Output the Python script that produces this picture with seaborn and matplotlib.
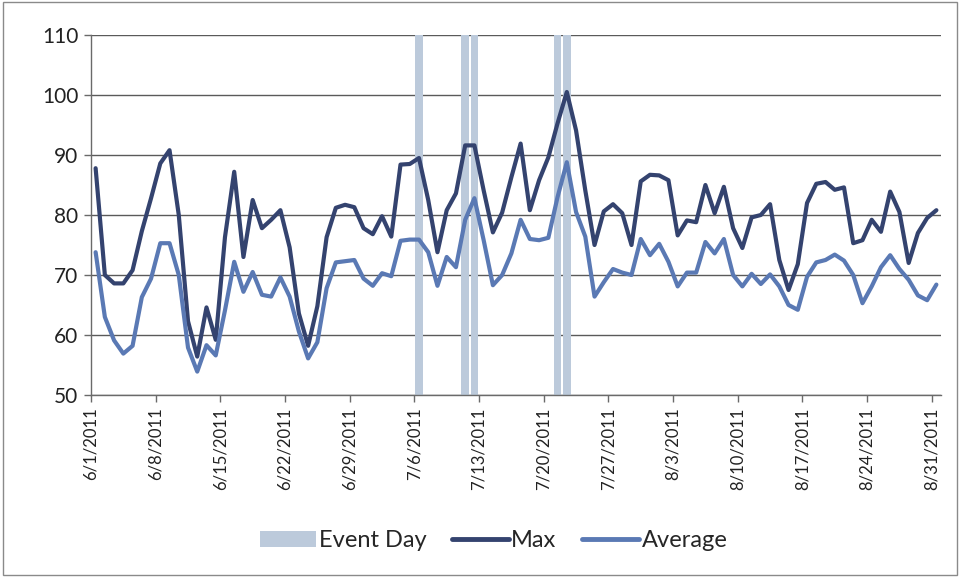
import numpy as np
import pandas as pd
import matplotlib
matplotlib.use("Agg")
import matplotlib.pyplot as plt
from matplotlib.patches import Patch, Rectangle
from matplotlib.lines import Line2D
import seaborn as sns

# Daily temperatures, June 1 - August 31, 2011
dates = pd.date_range("2011-06-01", "2011-08-31", freq="D")

max_temp = [
    87.8, 70.0, 68.6, 68.6, 70.8, 77.3, 82.8, 88.6, 90.8, 80.0,
    62.3, 56.4, 64.6, 59.2, 76.3, 87.2, 73.0, 82.5, 77.8, 79.2,
    80.8, 74.6, 63.6, 58.2, 64.8, 76.3, 81.2, 81.7, 81.3, 77.8,
    76.8, 79.8, 76.4, 88.4, 88.5, 89.5, 82.5, 73.8, 80.8, 83.6,
    91.6, 91.6, 84.1, 77.1, 80.4, 86.3, 91.9, 80.8, 85.8, 89.6,
    95.3, 100.5, 94.1, 84.1, 75.0, 80.6, 81.8, 80.3, 75.0, 85.6,
    86.7, 86.6, 85.8, 76.6, 79.1, 78.8, 85.0, 80.3, 84.7, 77.8,
    74.5, 79.6, 80.0, 81.8, 72.5, 67.5, 71.8, 82.0, 85.2, 85.5,
    84.2, 84.6, 75.3, 75.8, 79.2, 77.2, 83.9, 80.5, 72.0, 77.0,
    79.5, 80.8,
]

avg_temp = [
    73.8, 63.0, 59.1, 56.9, 58.2, 66.3, 69.4, 75.3, 75.3, 70.0,
    57.9, 53.9, 58.3, 56.6, 64.1, 72.2, 67.2, 70.5, 66.7, 66.4,
    69.6, 66.4, 60.6, 56.1, 58.8, 67.8, 72.1, 72.3, 72.5, 69.4,
    68.2, 70.3, 69.8, 75.7, 75.9, 75.9, 73.8, 68.2, 73.0, 71.3,
    79.2, 82.8, 75.8, 68.3, 70.0, 73.6, 79.2, 76.0, 75.8, 76.2,
    83.0, 88.8, 80.5, 76.4, 66.4, 68.8, 71.0, 70.4, 70.0, 76.0,
    73.3, 75.2, 72.2, 68.1, 70.4, 70.4, 75.5, 73.6, 76.0, 70.0,
    68.1, 70.2, 68.5, 70.1, 68.1, 65.0, 64.2, 69.7, 72.1, 72.5,
    73.4, 72.4, 70.0, 65.3, 68.1, 71.3, 73.3, 71.0, 69.2, 66.6,
    65.8, 68.4,
]

event_days = ["2011-07-06", "2011-07-11", "2011-07-12", "2011-07-21", "2011-07-22"]
event_value = 110

tick_labels = ["6/1/2011", "6/8/2011", "6/15/2011", "6/22/2011", "6/29/2011",
               "7/6/2011", "7/13/2011", "7/20/2011", "7/27/2011", "8/3/2011",
               "8/10/2011", "8/17/2011", "8/24/2011", "8/31/2011"]
y_ticks = [50, 60, 70, 80, 90, 100, 110]

MAX_COLOR = "#34436f"
AVG_COLOR = "#5a79b4"
EVENT_COLOR = "#bccadb"
GRID_COLOR = "#5a5a5a"

sns.set_theme(style="white")
plt.rcParams["font.family"] = ["Lato", "DejaVu Sans"]

day = np.arange(len(dates))
df = pd.DataFrame({
    "day": np.concatenate([day, day]),
    "temp": max_temp + avg_temp,
    "series": ["Max"] * len(day) + ["Average"] * len(day),
})

fig = plt.figure(figsize=(9.6, 5.77), dpi=100)
ax = fig.add_axes([91 / 960, 1 - 395 / 577, 850 / 960, 360 / 577])

# Event days as full-height columns behind the lines
ev_idx = [(pd.Timestamp(d) - dates[0]).days for d in event_days]
ax.bar(ev_idx, [event_value - 50] * len(ev_idx), bottom=50, width=0.8,
       color=EVENT_COLOR, zorder=1, linewidth=0)

sns.lineplot(data=df, x="day", y="temp", hue="series",
             palette={"Max": MAX_COLOR, "Average": AVG_COLOR},
             linewidth=3.0, ax=ax, legend=False, zorder=3)

# Date axis: each day occupies one slot, week ticks on the slot edges
ax.set_xlim(-0.5, len(dates) - 0.5)
ax.set_ylim(50, 110)
ax.set_yticks(y_ticks)
ax.set_yticklabels([str(v) for v in y_ticks], fontsize=15, color="#222222")
ax.set_xticks(np.arange(0, len(dates), 7) - 0.5)
ax.set_xticklabels(tick_labels, rotation=90, fontsize=12, color="#222222")
ax.set_xlabel("")
ax.set_ylabel("")

ax.yaxis.grid(True, color=GRID_COLOR, linewidth=1.0, zorder=0)
ax.xaxis.grid(False)
for s in ["top", "right"]:
    ax.spines[s].set_visible(False)
for s in ["left", "bottom"]:
    ax.spines[s].set_color("#6a6a6a")
    ax.spines[s].set_linewidth(1.0)
ax.tick_params(axis="both", which="major", direction="out", length=5,
               width=1, color="#6a6a6a", left=True, bottom=True, pad=4)
ax.set_axisbelow(True)

handles = [
    Patch(facecolor=EVENT_COLOR, edgecolor="none", label="Event Day"),
    Line2D([0], [0], color=MAX_COLOR, lw=3.5, label="Max"),
    Line2D([0], [0], color=AVG_COLOR, lw=3.5, label="Average"),
]
fig.legend(handles=handles, loc="center", bbox_to_anchor=(0.514, 0.063),
           ncol=3, frameon=False, fontsize=17, handlelength=2.4,
           handletextpad=0.1, columnspacing=1.1, handleheight=0.7)

# Outer chart frame
fig.add_artist(Rectangle((0.003, 0.004), 0.994, 0.992, transform=fig.transFigure,
                         fill=False, edgecolor="#8a8a8a", linewidth=1.0))

fig.savefig("out.png", dpi=100)
